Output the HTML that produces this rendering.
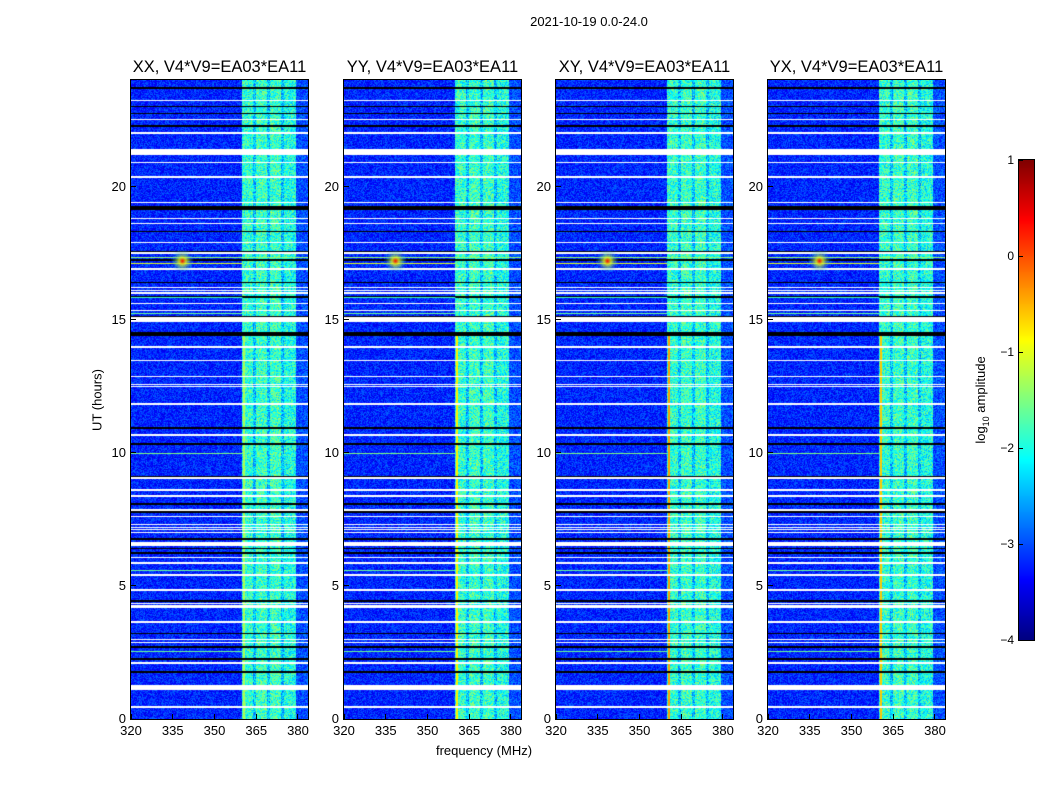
<!DOCTYPE html>
<html><head><meta charset="utf-8">
<style>
body{margin:0;background:#fff;font-family:"Liberation Sans","DejaVu Sans",sans-serif;}
#wrap{position:relative;width:1050px;height:800px;overflow:hidden;background:#fff;}
.t{position:absolute;white-space:nowrap;color:#000;}
canvas{position:absolute;}
.ax{position:absolute;border:1px solid #000;box-sizing:border-box;}
</style></head>
<body>
<div id="wrap">
<div class="t" style="left:0;width:1178px;text-align:center;top:14px;font-size:13px">2021-10-19 0.0-24.0</div>
<div class="t" style="left:97px;top:400px;font-size:13px;transform:translate(-50%,-50%) rotate(-90deg)">UT (hours)</div>
<div class="t" style="left:484px;top:743px;font-size:13px;transform:translateX(-50%)">frequency (MHz)</div>
<canvas id="cb" width="15" height="480" style="left:1019px;top:160px"></canvas>
<div class="ax" style="left:1018px;top:159px;width:17px;height:482px"></div>
<div class="t" style="left:982px;top:400px;font-size:13px;transform:translate(-50%,-50%) rotate(-90deg)">log<sub style="font-size:9px">10</sub> amplitude</div>
</div>
<script>
const panelTitles=["XX, V4*V9=EA03*EA11","YY, V4*V9=EA03*EA11","XY, V4*V9=EA03*EA11","YX, V4*V9=EA03*EA11"];
const panelLefts=[131,344,556,768];
const xTicks=[320,335,350,365,380];
const yTicks=[0,5,10,15,20];
const cbTicks=[1,0,-1,-2,-3,-4];
// frequency profile: [startMHz,endMHz,log10 amplitude]
const freqBands=[[320,360,-3.2],[360,364,-1.9],[364,365,-2.4],[365,369,-1.85],[369,370,-2.4],[370,374,-1.85],[374,375,-2.4],[375,379.3,-2.0],[379.3,384,-3.0]];
// flagged (white) time ranges [h0,h1]
const whiteRows=[[23.2,23.25],[22.48,22.53],[21.98,22.03],[21.2,21.4],[20.88,20.93],[20.33,20.38],[19.38,19.43],[18.78,18.83],[18.58,18.63],[17.88,17.93],[17.48,17.53],[16.88,16.93],[16.18,16.23],[16.08,16.12],[15.98,16.02],[15.58,15.63],[15.33,15.38],[14.9,15.08],[14.38,14.42],[13.95,14.0],[13.46,13.5],[12.86,12.9],[12.56,12.6],[12.48,12.52],[11.81,11.86],[10.64,10.69],[9.03,9.08],[8.58,8.63],[8.35,8.4],[7.83,7.88],[7.58,7.63],[7.28,7.33],[7.18,7.22],[7.08,7.12],[6.98,7.02],[6.5,6.65],[6.06,6.1],[5.83,5.88],[5.38,5.43],[4.82,4.87],[4.33,4.37],[4.18,4.28],[3.62,3.67],[2.95,3.0],[2.84,2.88],[2.08,2.13],[1.08,1.27],[0.43,0.48]];
// zeroed (black) time ranges
const blackRows=[[23.68,23.74],[22.98,23.03],[22.72,22.77],[22.25,22.3],[19.1,19.27],[18.28,18.33],[17.53,17.58],[17.22,17.27],[16.38,16.43],[15.83,15.88],[15.1,15.15],[14.4,14.55],[10.9,10.96],[10.3,10.36],[9.08,9.13],[8.05,8.1],[7.75,7.8],[6.72,6.78],[6.38,6.43],[6.2,6.26],[4.41,4.46],[3.18,3.23],[2.68,2.73],[2.23,2.28],[1.74,1.79]];
// RFI rows [hour, value, maxMHz]
const rfiRows=[[17.12,-1.0,360],[17.35,-1.4,384],[15.85,-1.8,360],[15.25,-1.6,360],[10.0,-1.5,360],[5.6,-1.6,360],[2.55,-1.6,360]];
const rfiSpotFreq=338.5, rfiSpotHour=17.2, rfiSpotVal=0.4;
const lineFreq=360.6;
const lineVals=[-1.3,-0.8,-0.4,-0.6];
const lineHours=[0,14.5];
const vmin=-4,vmax=1, fMin=320,fMax=383.6,hMin=0,hMax=24;
const W=177,H=639;
function xs(f){return (f-fMin)/(fMax-fMin)*W;}
function ys(h){return H-(h-hMin)/(hMax-hMin)*H;}
function jet(v){let t=Math.max(0,Math.min(1,(v-vmin)/(vmax-vmin)));const c=x=>Math.round(255*Math.max(0,Math.min(1,x)));return [c(1.5-Math.abs(4*t-3)),c(1.5-Math.abs(4*t-2)),c(1.5-Math.abs(4*t-1))];}
function prof(f){for(const b of freqBands)if(f>=b[0]&&f<b[1])return b[2];return -3.2;}
function hash(a,b){let n=(a*374761393+b*668265263)|0;n=(n^(n>>>13))*1274126177|0;return ((n^(n>>>16))>>>0)/4294967296;}
const wrap=document.getElementById('wrap');
panelLefts.forEach((L,p)=>{
  const cv=document.createElement('canvas');cv.width=W;cv.height=H;
  cv.style.left=L+'px';cv.style.top='80px';
  
  
  wrap.appendChild(cv);
  const ctx=cv.getContext('2d');const img=ctx.createImageData(W,H);
  for(let py=0;py<H;py++){const h=hMax-(py+0.5)/H*(hMax-hMin);
    for(let px=0;px<W;px++){const f=fMin+(px+0.5)/W*(fMax-fMin);
      const base=prof(f);
      let v=base+(hash(px+p*1000,py)-0.5)*(base>-2.6?1.1:0.7);
      if(Math.abs(f-lineFreq)<0.5&&h>=lineHours[0]&&h<=lineHours[1])v=lineVals[p];
      const i=(py*W+px)*4;const c=jet(v);img.data[i]=c[0];img.data[i+1]=c[1];img.data[i+2]=c[2];img.data[i+3]=255;}}
  ctx.putImageData(img,0,0);
  ctx.fillStyle='#fff';whiteRows.forEach(r=>{const a=Math.round(ys(r[1])),b=Math.round(ys(r[0]));ctx.fillRect(0,a,W,Math.max(1,b-a));});
  ctx.fillStyle='#000';blackRows.forEach(r=>{const a=Math.round(ys(r[1])),b=Math.round(ys(r[0]));ctx.fillRect(0,a,W,Math.max(1,b-a));});
  rfiRows.forEach(r=>{const c=jet(r[1]);ctx.fillStyle=`rgb(${c})`;ctx.fillRect(0,Math.round(ys(r[0])),xs(r[2]),1);});
  const g=ctx.createRadialGradient(xs(rfiSpotFreq),ys(rfiSpotHour),0,xs(rfiSpotFreq),ys(rfiSpotHour),12);
  g.addColorStop(0,`rgb(${jet(rfiSpotVal)})`);g.addColorStop(0.3,`rgba(${jet(-1)},0.8)`);g.addColorStop(1,'rgba(0,150,255,0)');
  ctx.fillStyle=g;ctx.fillRect(xs(rfiSpotFreq)-30,ys(rfiSpotHour)-14,60,28);
  const fr=document.createElement('div');fr.className='ax';
  fr.style.cssText=`left:${L-1}px;top:79px;width:${W+2}px;height:${H+2}px`;
  
  
  wrap.appendChild(fr);
  const tt=document.createElement('div');tt.className='t';tt.textContent=panelTitles[p];
  tt.style.cssText=`left:${L+W/2}px;top:58px;font-size:16.5px;transform:translateX(-50%)`;
  
  
  wrap.appendChild(tt);
  xTicks.forEach(v=>{const x=L+xs(v);
    const tk=document.createElement('div');tk.style.cssText=`position:absolute;left:${x-0.5}px;top:${80+H-5}px;width:1px;height:5px;background:#000`;
    
    
    wrap.appendChild(tk);
    const lb=document.createElement('div');lb.className='t';lb.textContent=v;lb.style.cssText=`left:${x}px;top:${80+H+4}px;font-size:13px;transform:translateX(-50%)`;
    
    
    wrap.appendChild(lb);});
  yTicks.forEach(v=>{const y=80+ys(v);
    const tk=document.createElement('div');tk.style.cssText=`position:absolute;left:${L}px;top:${y-0.5}px;width:5px;height:1px;background:#000`;
    
    
    wrap.appendChild(tk);
    const lb=document.createElement('div');lb.className='t';lb.textContent=v;lb.style.cssText=`right:${1050-L+5}px;top:${y-8}px;font-size:13px`;
    
    
    wrap.appendChild(lb);});
});
const cb=document.getElementById('cb').getContext('2d');
for(let i=0;i<480;i++){const v=vmax-(i+0.5)/480*(vmax-vmin);cb.fillStyle=`rgb(${jet(v)})`;cb.fillRect(0,i,15,1);}
cbTicks.forEach(v=>{const y=160+(vmax-v)/(vmax-vmin)*480;
  const lb=document.createElement('div');lb.className='t';lb.textContent=v<0?'\u2212'+(-v):v;
  lb.style.cssText=`right:${1050-1014}px;top:${y-7}px;font-size:12px`;
  
  
  wrap.appendChild(lb);
  const tk=document.createElement('div');tk.style.cssText=`position:absolute;left:1019px;top:${y-0.5}px;width:4px;height:1px;background:#000`;
  
  
  wrap.appendChild(tk);});
</script>
</body></html>
